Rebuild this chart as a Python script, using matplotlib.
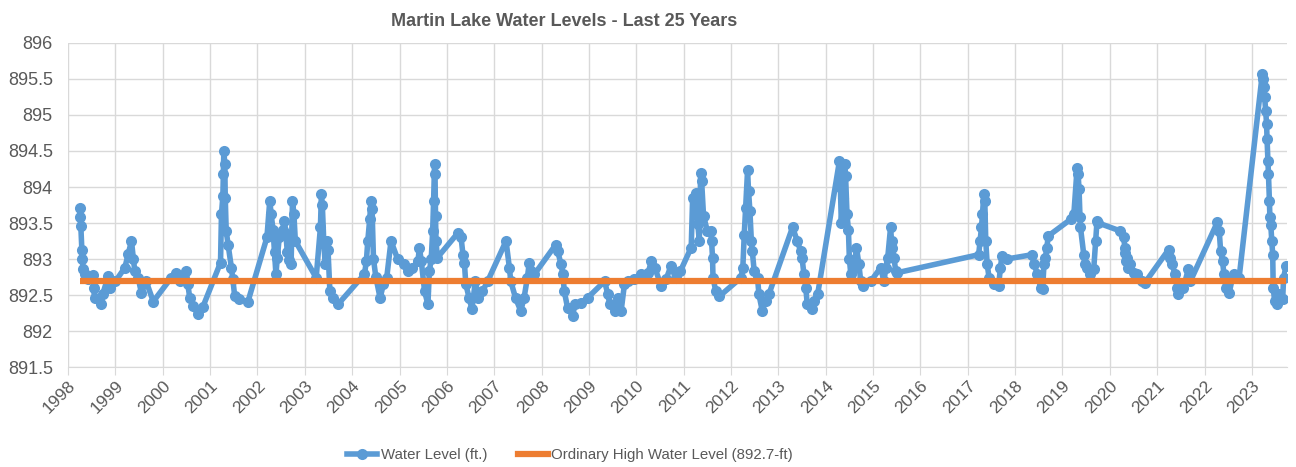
import matplotlib
matplotlib.use("Agg")
import matplotlib.pyplot as plt
from matplotlib import font_manager
from matplotlib.lines import Line2D

# ---------------- data (decimal year, water level ft) ----------------
dates = [
    1998.25, 1998.26, 1998.27, 1998.29, 1998.30, 1998.32, 1998.35, 1998.42, 1998.53, 1998.54,
    1998.56, 1998.70, 1998.73, 1998.85, 1998.89, 1999.00, 1999.20, 1999.27, 1999.34, 1999.38,
    1999.41, 1999.48, 1999.55, 1999.65, 1999.80, 2000.18, 2000.28, 2000.36, 2000.50, 2000.53,
    2000.57, 2000.64, 2000.74, 2000.85, 2001.22, 2001.24, 2001.27, 2001.28, 2001.29, 2001.31,
    2001.32, 2001.34, 2001.38, 2001.45, 2001.48, 2001.52, 2001.62, 2001.80,
    2002.20, 2002.26, 2002.29, 2002.33, 2002.36, 2002.39, 2002.42, 2002.46, 2002.53, 2002.57,
    2002.60, 2002.63, 2002.67, 2002.71, 2002.74, 2002.77, 2002.80, 2003.24, 2003.33, 2003.35,
    2003.37, 2003.40, 2003.43, 2003.46, 2003.49, 2003.53, 2003.59, 2003.70, 2004.26, 2004.30,
    2004.33, 2004.37, 2004.40, 2004.42, 2004.45, 2004.50, 2004.59, 2004.66, 2004.73, 2004.82,
    2004.96, 2005.10, 2005.17, 2005.27, 2005.39, 2005.42, 2005.46, 2005.53, 2005.60, 2005.63,
    2005.67, 2005.70, 2005.72, 2005.74, 2005.75, 2005.76, 2005.77, 2005.80,
    2006.23, 2006.30, 2006.34, 2006.37, 2006.40, 2006.47, 2006.53, 2006.60, 2006.66, 2006.75,
    2006.86, 2007.25, 2007.32, 2007.35, 2007.45, 2007.56, 2007.63, 2007.70, 2007.74, 2007.78,
    2007.85, 2008.30, 2008.34, 2008.41, 2008.45, 2008.48, 2008.55, 2008.66, 2008.70, 2008.83,
    2008.97, 2009.33, 2009.40, 2009.44, 2009.54, 2009.61, 2009.68, 2009.75, 2009.82, 2009.96,
    2010.10, 2010.25, 2010.32, 2010.39, 2010.53, 2010.63, 2010.73, 2010.83, 2010.93,
    2011.16, 2011.19, 2011.26, 2011.30, 2011.33, 2011.36, 2011.38, 2011.42, 2011.50, 2011.57,
    2011.59, 2011.61, 2011.62, 2011.68, 2011.75, 2012.21, 2012.25, 2012.28, 2012.31, 2012.35,
    2012.37, 2012.40, 2012.43, 2012.45, 2012.49, 2012.56, 2012.59, 2012.66, 2012.73, 2012.80,
    2013.30, 2013.40, 2013.47, 2013.50, 2013.54, 2013.58, 2013.61, 2013.72, 2013.75, 2013.83,
    2014.29, 2014.31, 2014.33, 2014.36, 2014.40, 2014.42, 2014.45, 2014.48, 2014.50, 2014.53,
    2014.60, 2014.65, 2014.70, 2014.74, 2014.78,
    2014.95, 2015.16, 2015.23, 2015.27, 2015.31, 2015.37, 2015.39, 2015.41, 2015.44, 2015.48,
    2015.51, 2017.23, 2017.26, 2017.29, 2017.31, 2017.34, 2017.36, 2017.38, 2017.41, 2017.45,
    2017.55, 2017.65, 2017.69, 2017.72, 2017.82, 2018.36, 2018.40, 2018.47, 2018.54, 2018.58,
    2018.61, 2018.64, 2018.67, 2018.70, 2019.17,
    2019.24, 2019.31, 2019.33, 2019.35, 2019.37, 2019.38, 2019.45, 2019.47, 2019.52, 2019.59,
    2019.66, 2019.70, 2019.73, 2019.76, 2020.22, 2020.29, 2020.32, 2020.33, 2020.34, 2020.36,
    2020.38, 2020.43, 2020.50, 2020.57, 2020.67, 2020.74, 2021.24, 2021.27, 2021.31, 2021.38,
    2021.42, 2021.45, 2021.55, 2021.66, 2021.70, 2022.27, 2022.31, 2022.34, 2022.38, 2022.41,
    2022.45, 2022.52, 2022.59, 2022.62, 2022.73, 2023.22, 2023.24, 2023.25, 2023.27, 2023.29,
    2023.31, 2023.32, 2023.34, 2023.35, 2023.37, 2023.38, 2023.40, 2023.42, 2023.44, 2023.45,
    2023.48, 2023.52, 2023.58, 2023.65, 2023.67, 2023.72,
]
levels = [
    893.71, 893.58, 893.46, 893.13, 893.00, 892.86, 892.79, 892.72, 892.78, 892.60,
    892.46, 892.37, 892.51, 892.76, 892.60, 892.69, 892.88, 893.07, 893.25, 893.00,
    892.83, 892.74, 892.53, 892.69, 892.41, 892.74, 892.81, 892.69, 892.83, 892.65,
    892.46, 892.35, 892.23, 892.34, 892.95, 893.62, 893.88, 894.18, 894.50, 894.32,
    893.85, 893.39, 893.20, 892.88, 892.72, 892.48, 892.44, 892.41,
    893.30, 893.81, 893.62, 893.40, 893.10, 892.79, 893.02, 893.30, 893.40, 893.53,
    893.35, 893.10, 892.98, 892.93, 893.81, 893.62, 893.25, 892.74, 893.44, 893.90,
    893.75, 893.25, 892.93, 893.25, 893.12, 892.55, 892.46, 892.37, 892.79, 892.97,
    893.25, 893.55, 893.81, 893.70, 893.00, 892.75, 892.46, 892.65, 892.74, 893.25,
    893.00, 892.93, 892.84, 892.88, 892.97, 893.16, 892.97, 892.55, 892.37, 892.83,
    893.00, 893.39, 893.81, 894.32, 894.18, 893.60, 893.25, 893.02,
    893.36, 893.30, 893.06, 892.95, 892.65, 892.46, 892.30, 892.69, 892.46, 892.55,
    892.69, 893.25, 892.88, 892.69, 892.46, 892.28, 892.46, 892.74, 892.95, 892.83,
    892.79, 893.20, 893.11, 892.93, 892.79, 892.55, 892.32, 892.21, 892.37, 892.39,
    892.46, 892.69, 892.51, 892.37, 892.28, 892.46, 892.28, 892.65, 892.69, 892.72,
    892.79, 892.81, 892.97, 892.88, 892.62, 892.72, 892.90, 892.74, 892.83,
    893.16, 893.85, 893.92, 893.48, 893.25, 894.20, 894.08, 893.60, 893.39, 893.39,
    893.25, 893.02, 892.74, 892.55, 892.48, 892.74, 892.88, 893.34, 893.71, 894.23,
    893.95, 893.66, 893.25, 893.11, 892.83, 892.74, 892.51, 892.28, 892.42, 892.51,
    893.44, 893.25, 893.11, 893.02, 892.79, 892.60, 892.37, 892.30, 892.42, 892.51,
    894.36, 894.00, 893.50, 893.85, 894.32, 894.15, 893.62, 893.40, 893.00, 892.79,
    892.88, 893.16, 892.93, 892.69, 892.62,
    892.69, 892.88, 892.69, 892.88, 893.02, 893.44, 893.25, 893.16, 893.02, 892.83,
    892.81, 893.06, 893.25, 893.44, 893.62, 893.90, 893.80, 893.25, 892.93, 892.74,
    892.65, 892.62, 892.88, 893.04, 893.00, 893.06, 892.93, 892.79, 892.60, 892.58,
    892.93, 893.02, 893.16, 893.32, 893.55,
    893.62, 894.27, 894.18, 893.97, 893.58, 893.44, 893.06, 892.93, 892.88, 892.79,
    892.86, 893.25, 893.53, 893.50, 893.39, 893.30, 893.16, 893.08, 892.97, 893.02,
    892.88, 892.93, 892.81, 892.79, 892.69, 892.67, 893.13, 893.02, 892.93, 892.79,
    892.60, 892.51, 892.60, 892.86, 892.69, 893.51, 893.39, 893.11, 892.97, 892.79,
    892.60, 892.53, 892.74, 892.79, 892.74, 895.57, 895.50, 895.39, 895.25, 895.06,
    894.88, 894.67, 894.36, 894.18, 893.81, 893.58, 893.47, 893.25, 893.06, 892.60,
    892.42, 892.37, 892.51, 892.44, 892.74, 892.90,
]
ohw_level = 892.7
year_ticks = list(range(1998, 2024))
y_ticks = [891.5, 892, 892.5, 893, 893.5, 894, 894.5, 895, 895.5, 896]

title = "Martin Lake Water Levels - Last 25 Years"
label_wl = "Water Level (ft.)"
label_ohw = "Ordinary High Water Level (892.7-ft)"

# ---------------- style ----------------
names = {f.name for f in font_manager.fontManager.ttflist}
base = "Liberation Sans" if "Liberation Sans" in names else "DejaVu Sans"
plt.rcParams["font.family"] = [base, "DejaVu Sans"]

BLUE = "#5B9BD5"
ORANGE = "#ED7D31"
GRID = "#D9D9D9"
TEXT = "#595959"

fig = plt.figure(figsize=(12.96, 4.67), dpi=100)
ax = fig.add_axes([0.0525, 0.214, 0.9405, 0.694])

ax.plot(dates, levels, color=BLUE, lw=4.0, marker="o", ms=8.0,
        markeredgewidth=0, zorder=3, solid_joinstyle="round")
ax.plot([dates[0], dates[-1]], [ohw_level, ohw_level], color=ORANGE, lw=4.5,
        zorder=4, solid_capstyle="butt")

ax.set_xlim(1998, 2023.74)
ax.set_ylim(891.5, 896)
ax.set_xticks(year_ticks)
ax.set_xticklabels([str(y) for y in year_ticks], rotation=45, ha="right",
                   rotation_mode="anchor", fontsize=12.5, color=TEXT)
ax.set_yticks(y_ticks)
ax.set_yticklabels([f"{v:g}" for v in y_ticks], fontsize=13, color=TEXT)

ax.grid(True, color=GRID, lw=1.0, zorder=0)
ax.set_axisbelow(True)
for s in ["top", "right", "left"]:
    ax.spines[s].set_visible(False)
ax.spines["bottom"].set_color(GRID)
ax.tick_params(axis="x", length=6, color=GRID, pad=2)
ax.tick_params(axis="y", length=0, pad=11)

fig.text(0.435, 0.955, title, ha="center", va="center", fontsize=13,
         fontweight="bold", color=TEXT)

handles = [
    Line2D([], [], color=BLUE, lw=4.0, marker="o", ms=8.0, markeredgewidth=0),
    Line2D([], [], color=ORANGE, lw=4.5),
]
leg = fig.legend(handles, [label_wl, label_ohw], loc="center", bbox_to_anchor=(0.44, 0.026),
                 ncol=2, frameon=False, handlelength=2.0,
                 handletextpad=0.25, columnspacing=2.0,
                 prop={"size": 10.8})
for t in leg.get_texts():
    t.set_color(TEXT)

fig.savefig("out.png", dpi=100)
